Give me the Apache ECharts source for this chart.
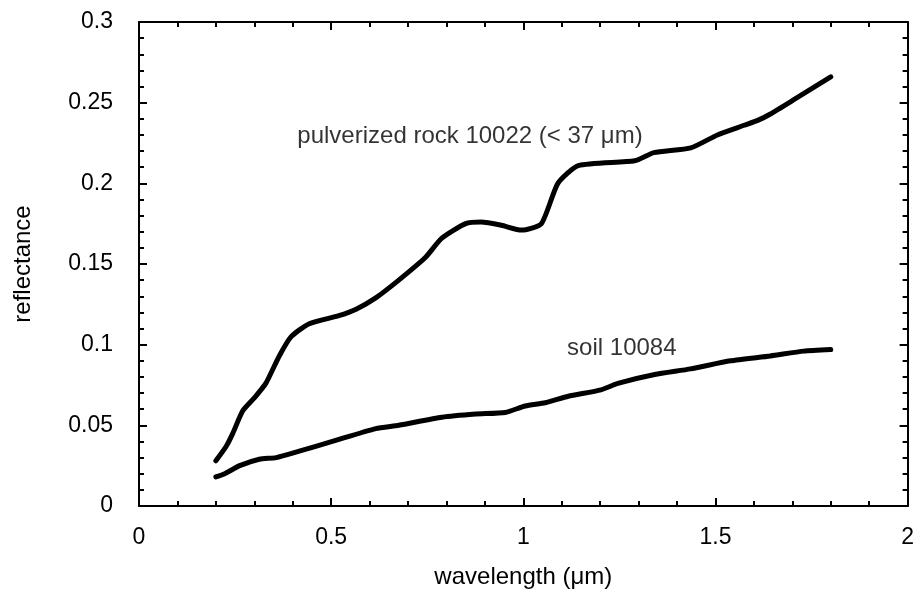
<!DOCTYPE html>
<html>
<head>
<meta charset="utf-8">
<script src="https://cdn.jsdelivr.net/npm/echarts@6/dist/echarts.min.js"></script>
<style>
html, body { margin: 0; padding: 0; background: #fff; }
#chart { width: 917px; height: 594px; }
</style>
</head>
<body>
<div id="chart"></div>
<script>
// pulverized rock 10022 (< 37 um)
var rockWave = [0.2, 0.227, 0.244, 0.27, 0.3, 0.33, 0.365, 0.396, 0.443, 0.52, 0.565, 0.616, 0.676, 0.745, 0.788, 0.85, 0.89, 0.943, 0.995, 1.047, 1.09, 1.143, 1.29, 1.34, 1.436, 1.505, 1.575, 1.61, 1.643, 1.705, 1.8];
var rockRefl = [0.028, 0.037, 0.045, 0.059, 0.067, 0.076, 0.093, 0.105, 0.113, 0.118, 0.122, 0.129, 0.140, 0.154, 0.166, 0.175, 0.176, 0.174, 0.171, 0.175, 0.200, 0.211, 0.214, 0.219, 0.222, 0.230, 0.236, 0.239, 0.243, 0.252, 0.266];

// soil 10084
var soilWave = [0.2, 0.223, 0.262, 0.313, 0.357, 0.417, 0.503, 0.616, 0.676, 0.788, 0.876, 0.953, 1.005, 1.057, 1.117, 1.202, 1.246, 1.342, 1.435, 1.539, 1.643, 1.73, 1.8];
var soilRefl = [0.018, 0.020, 0.025, 0.029, 0.030, 0.034, 0.040, 0.048, 0.050, 0.055, 0.057, 0.058, 0.062, 0.064, 0.068, 0.072, 0.076, 0.0815, 0.085, 0.090, 0.093, 0.096, 0.097];

var labelTexts = ['pulverized rock 10022 (< 37 μm)', 'soil 10084'];
var labelPos = [[0.412, 0.229], [1.114, 0.0975]];

function pairs(xs, ys) {
    return xs.map(function (x, i) { return [x, ys[i]]; });
}

var chart = echarts.init(document.getElementById('chart'));
var font = 'Liberation Sans, Arial, Helvetica, sans-serif';
var axisLine = { show: true, onZero: false, lineStyle: { color: '#000', width: 2 } };
var tick = { show: true, inside: true, length: 8, lineStyle: { color: '#000', width: 2 } };
var minor = { show: true, splitNumber: 5, length: 5, lineStyle: { color: '#000', width: 2 } };

var option = {
    animation: false,
    backgroundColor: '#fff',
    grid: { left: 139, right: 6, top: 22, bottom: 83 },
    xAxis: [
        {
            type: 'value', min: 0, max: 2, interval: 0.5,
            name: 'wavelength (μm)', nameLocation: 'middle', nameGap: 59,
            nameTextStyle: { color: '#000', fontSize: 24, fontFamily: font },
            axisLine: axisLine, axisTick: tick, minorTick: minor,
            splitLine: { show: false },
            axisLabel: { color: '#000', fontSize: 23, fontFamily: font, margin: 20 }
        },
        {
            type: 'value', min: 0, max: 2, interval: 0.5, position: 'top',
            axisLine: axisLine, axisTick: tick, minorTick: minor,
            splitLine: { show: false }, axisLabel: { show: false }
        }
    ],
    yAxis: [
        {
            type: 'value', min: 0, max: 0.3, interval: 0.05,
            name: 'reflectance', nameLocation: 'middle', nameGap: 104,
            nameTextStyle: { color: '#000', fontSize: 24, fontFamily: font },
            axisLine: axisLine, axisTick: tick, minorTick: minor,
            splitLine: { show: false },
            axisLabel: { color: '#000', fontSize: 23, fontFamily: font, margin: 26 }
        },
        {
            type: 'value', min: 0, max: 0.3, interval: 0.05, position: 'right',
            axisLine: axisLine, axisTick: tick, minorTick: minor,
            splitLine: { show: false }, axisLabel: { show: false }
        }
    ],
    series: [
        {
            name: 'rock', type: 'line', data: pairs(rockWave, rockRefl),
            showSymbol: false, smooth: 0.2,
            lineStyle: { color: '#000', width: 5, cap: 'round', join: 'round' }
        },
        {
            name: 'soil', type: 'line', data: pairs(soilWave, soilRefl),
            showSymbol: false, smooth: 0.2,
            lineStyle: { color: '#000', width: 5, cap: 'round', join: 'round' }
        },
        {
            name: 'labels', type: 'scatter', symbolSize: 0,
            data: labelPos.map(function (p, i) {
                return { value: p, label: { formatter: labelTexts[i] } };
            }),
            label: {
                show: true, position: 'right', distance: 0,
                color: '#000', fontSize: 24, fontFamily: font
            },
            silent: true
        }
    ]
};
chart.setOption(option);
</script>
</body>
</html>
